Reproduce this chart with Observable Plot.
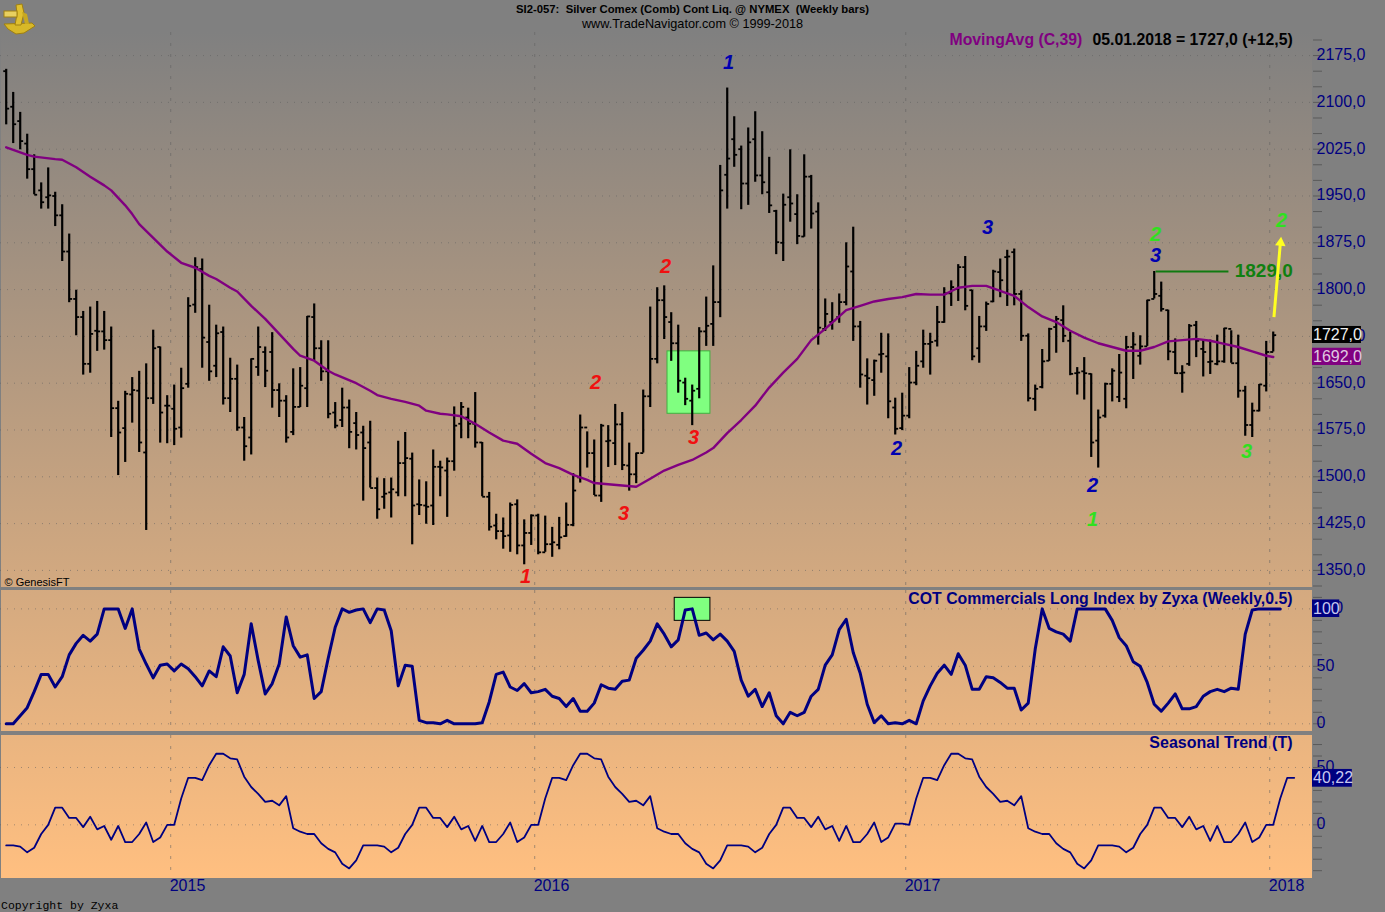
<!DOCTYPE html>
<html>
<head>
<meta charset="utf-8">
<script src="https://cdn.jsdelivr.net/npm/d3@7"></script>
<script src="https://cdn.jsdelivr.net/npm/@observablehq/plot@0.6"></script>
<style>
html,body{margin:0;padding:0;background:#808080;}
#page{position:relative;width:1385px;height:912px;overflow:hidden;background:#808080;font-family:"Liberation Sans",Arial,sans-serif;}
#page>div,#page>svg{position:absolute;}
</style>
</head>
<body>
<div id="page"></div>
<script>
// Weekly bars (week 181 = 05.01.2018)
const high = [
2153,2116,2084,2049,2016,1971,1995,1956,1936,1889,
1799,1765,1772,1781,1765,1740,1621,1637,1659,1669,
1681,1735,1708,1630,1647,1674,1787,1851,1849,1775,
1743,1740,1690,1679,1595,1689,1740,1708,1731,1649,
1630,1673,1675,1757,1777,1718,1718,1619,1642,1623,
1603,1581,1589,1498,1497,1498,1557,1571,1538,1495,
1492,1543,1525,1530,1612,1619,1610,1635,1555,1475,
1440,1434,1458,1463,1431,1439,1440,1437,1419,1435,
1458,1505,1599,1572,1559,1584,1582,1616,1603,1554,
1538,1639,1772,1803,1806,1763,1743,1658,1647,1739,
1788,1838,1999,2123,2077,2030,2059,2085,2053,2012,
1927,1953,2024,1952,2016,1983,1939,1785,1779,1793,
1875,1900,1749,1689,1687,1730,1729,1626,1634,1675,
1701,1735,1730,1773,1803,1814,1840,1853,1799,1757,
1780,1831,1849,1863,1865,1798,1729,1647,1704,1738,
1757,1774,1732,1675,1691,1665,1607,1650,1673,1696,
1725,1731,1726,1783,1829,1812,1767,1721,1678,1744,
1749,1720,1719,1727,1738,1734,1727,1645,1618,1648,1717,1732];
const low = [
2064,2034,2024,1977,1952,1929,1929,1901,1845,1779,
1726,1663,1666,1701,1703,1563,1502,1523,1586,1539,
1414,1616,1554,1553,1550,1562,1642,1762,1674,1653,
1659,1615,1603,1573,1525,1535,1661,1643,1610,1595,
1554,1566,1611,1611,1686,1653,1593,1577,1579,1545,
1543,1461,1482,1432,1448,1434,1468,1468,1391,1438,
1424,1422,1468,1435,1509,1561,1561,1546,1468,1413,
1399,1384,1379,1375,1359,1390,1375,1379,1371,1383,
1403,1420,1490,1514,1470,1459,1515,1518,1510,1477,
1489,1538,1611,1681,1720,1685,1634,1614,1582,1625,
1709,1709,1755,1929,1996,1928,1935,1972,1952,1922,
1856,1845,1908,1872,1884,1897,1711,1733,1735,1746,
1774,1717,1642,1615,1629,1666,1593,1567,1574,1593,
1646,1674,1663,1708,1746,1773,1781,1766,1686,1682,
1733,1779,1787,1773,1774,1717,1620,1605,1641,1685,
1698,1715,1662,1631,1623,1531,1514,1594,1620,1619,
1609,1656,1679,1709,1785,1764,1686,1664,1634,1677,
1691,1660,1664,1678,1682,1682,1626,1565,1563,1604,1636,1700];
const open = [
2150,2093,2070,2034,1993,1959,1948,1950,1919,1861,
1785,1756,1681,1734,1733,1719,1610,1578,1632,1638,
1539,1626,1708,1614,1609,1579,1649,1776,1833,1716,
1678,1732,1626,1657,1579,1563,1676,1700,1700,1639,
1622,1572,1612,1642,1756,1706,1669,1603,1591,1611,
1586,1571,1555,1482,1468,1475,1475,1522,1529,1456,
1454,1454,1516,1510,1525,1585,1595,1585,1555,1468,
1422,1413,1406,1456,1390,1410,1438,1379,1392,1391,
1405,1423,1499,1579,1538,1470,1557,1554,1584,1518,
1504,1538,1629,1689,1783,1748,1714,1651,1622,1641,
1733,1745,1780,1984,2041,2025,1970,2041,1983,1956,
1926,1875,1948,1921,1885,1981,1925,1737,1748,1756,
1780,1829,1741,1662,1655,1696,1693,1611,1578,1598,
1651,1685,1713,1718,1748,1794,1801,1836,1799,1706,
1741,1781,1828,1852,1860,1793,1726,1625,1644,1686,
1740,1751,1718,1666,1669,1665,1558,1598,1649,1628,
1625,1708,1694,1709,1785,1790,1767,1700,1666,1681,
1743,1705,1684,1681,1685,1737,1682,1638,1583,1606,1646,1700];
const close = [
2090,2065,2038,1993,1952,1940,1951,1919,1861,1785,
1756,1681,1729,1733,1719,1610,1571,1633,1639,1555,
1626,1706,1603,1614,1577,1642,1774,1836,1723,1669,
1730,1626,1657,1579,1549,1689,1708,1670,1639,1622,
1563,1612,1646,1757,1706,1669,1601,1582,1611,1572,
1567,1546,1482,1448,1473,1480,1522,1530,1454,1455,
1452,1516,1515,1525,1582,1612,1585,1555,1468,1420,
1413,1405,1455,1390,1410,1438,1379,1392,1395,1403,
1423,1478,1579,1538,1470,1582,1558,1584,1519,1504,
1538,1629,1689,1783,1756,1714,1654,1625,1638,1733,
1742,1780,1959,2010,2016,1970,2036,1983,1972,1935,
1876,1936,1938,1886,1981,1922,1739,1761,1750,1780,
1837,1741,1664,1658,1686,1697,1621,1577,1598,1651,
1678,1713,1716,1748,1794,1804,1836,1774,1693,1741,
1777,1829,1815,1853,1793,1726,1626,1641,1685,1737,
1753,1726,1665,1667,1666,1555,1595,1649,1670,1667,
1708,1712,1709,1783,1793,1769,1701,1666,1667,1742,
1718,1700,1685,1685,1738,1682,1638,1583,1606,1648,1700,1727];

// MovingAvg (C,39), read at these weeks
const maWeek = [0,3,4,7,8,10,12,14,15,17,18,19,21,23,25,27,29,30,32,33,35,37,39,41,42,44,46,47,50,52,53,55,57,59,60,62,63,65,67,69,71,73,75,77,79,81,83,84,86,88,90,92,94,96,98,100,101,103,105,107,109,111,113,115,117,119,120,122,124,126,128,130,132,134,136,138,140,142,144,146,148,150,152,154,156,158,160,162,164,166,168,170,172,174,176,178,180,181];
const maValue = [2028,2016,2013,2009,2008,1996,1981,1967,1959,1935,1921,1905,1883,1861,1843,1835,1822,1817,1803,1797,1774,1753,1729,1705,1694,1686,1670,1664,1650,1638,1631,1625,1620,1614,1606,1601,1600,1597,1585,1571,1558,1553,1537,1522,1514,1503,1495,1490,1488,1486,1484,1497,1510,1519,1527,1539,1546,1570,1591,1614,1643,1667,1689,1719,1737,1757,1767,1774,1781,1785,1788,1793,1792,1792,1803,1806,1806,1798,1790,1772,1757,1748,1734,1723,1714,1708,1702,1702,1708,1717,1719,1721,1718,1713,1708,1701,1694,1692];

// COT Commercials Long Index, weeks 0..182
const cot = [
0,0,7,14,28,43,43,32,41,60,
70,77,72,78,100,100,100,83,100,65,
52,40,51,52,46,52,48,41,33,46,
41,67,59,27,43,87,55,26,35,52,
93,68,58,60,22,28,57,84,100,97,
99,100,88,100,99,81,33,51,50,3,
1,1,0,3,0,0,0,0,1,19,
43,45,32,29,35,27,28,30,24,22,
15,22,11,11,18,34,31,30,37,38,
57,64,72,87,78,67,73,99,100,77,
79,73,78,72,63,38,24,30,15,27,
7,0,10,7,10,24,30,51,60,82,
91,62,44,17,1,7,0,1,0,3,
0,20,33,44,51,43,61,51,30,30,
41,40,36,31,31,12,18,65,100,83,
80,78,72,100,100,100,100,100,90,75,
68,54,50,36,17,11,18,26,13,13,
15,24,28,30,28,31,30,78,99,100,100,100,100];

// Seasonal Trend, weeks 0..184
const seasonal = [
-18,-18,-19,-24,-20,-8,0,15,15,6,
6,-2,7,-4,-1,-13,-1,-15,-15,-8,
2,-15,-11,0,0,23,41,41,39,52,
62,62,58,57,42,33,27,20,21,17,
25,-3,-6,-8,-8,-16,-21,-24,-34,-38,
-31,-18,-18,-18,-19,-24,-20,-8,0,15,
15,6,6,-2,7,-4,-1,-14,-1,-15,
-15,-8,2,-15,-11,0,0,23,41,41,
39,52,62,62,58,57,42,33,27,20,
21,17,25,-3,-6,-8,-8,-16,-21,-24,
-34,-38,-31,-18,-18,-18,-19,-24,-20,-8,
0,15,15,6,6,-2,7,-4,-1,-14,
-1,-15,-15,-8,2,-15,-11,1,1,0,
23,41,41,39,52,62,62,58,57,42,
33,27,20,21,17,25,-3,-6,-8,-8,
-16,-21,-24,-34,-38,-31,-18,-18,-18,-19,
-24,-20,-8,0,15,15,6,6,-2,7,
-4,-1,-14,-1,-15,-15,-8,2,-15,-11,
0,0,23,41,41];

// Wave count labels
const waveText  = ["1","3","2","2","3", "1","2","2","3","3", "1","2","2","3"];
const waveWeek  = [103.2,140.2,127.2,155.2,164.2, 74.2,84.2,94.2,88.2,98.2, 155.2,164.2,182.2,177.2];
const wavePrice = [2164,1900,1545,1486,1855, 1340,1651,1837,1441,1563, 1432,1888,1911,1541];
const waveColor = ["#0000b0","#0000b0","#0000b0","#0000b0","#0000b0","#f01010","#f01010","#f01010","#f01010","#f01010","#30e020","#30e020","#30e020","#30e020"];

// Axis values
const yearWeeks = [23.5,75.5,128.5,180.5];
const yearLabels = ["2015","2016","2017","2018"];
const priceMajor = [1350,1425,1500,1575,1650,1725,1800,1875,1950,2025,2100,2175];
const priceMinor = d3.range(1325,2225,25);
const cotMajor = [0,50,100];
const cotMinor = d3.range(0,120,10);
const seasonMajor = [0,50];
const seasonMinor = d3.range(-40,80,10);

const bars = high.map((h,i)=>({i,high:h,low:low[i],open:open[i],close:close[i]}));
const weekDomain = [-0.814,186.61];
const fontStyle = {fontFamily:"'Liberation Sans',Arial,sans-serif",background:"transparent",overflow:"visible"};
const navy = "#000080";
const gridX = Plot.ruleX(yearWeeks,{stroke:"#5f5f5f",strokeOpacity:0.55,strokeDasharray:"3 8"});
const gridY = v => Plot.ruleY(v,{stroke:"#5f5f5f",strokeOpacity:0.55,strokeDasharray:"1 6"});
const axes = (major,minor,fmt) => [
  Plot.axisY({anchor:"right",ticks:minor,tickSize:9,tickFormat:()=>"",label:null,stroke:"#5a5a5a"}),
  Plot.axisY({anchor:"right",ticks:major,tickSize:0,tickPadding:4,dy:-0.7,tickFormat:fmt,label:null,fill:navy,fontSize:16})
];
const badge = (week0,week1,lo,hi,bg,text,val,fg) => [
  Plot.rect([0],{x1:[week0],x2:[week1],y1:[lo],y2:[hi],fill:bg}),
  Plot.text([text],{x:[week0],y:[val],text:d=>d,textAnchor:"start",dx:0.5,dy:-0.5,fill:fg,fontSize:16})
];
const comma = d=>d.toFixed(1).replace(".",",");

// ---- price panel ----
const main = Plot.plot({
  width:1385,height:555,marginLeft:0,marginRight:73,marginTop:0,marginBottom:0,
  style:fontStyle,
  x:{domain:weekDomain,axis:null},
  y:{domain:[1322.6,2212]},
  marks:[
    gridY(priceMajor),gridX,
    ...axes(priceMajor,priceMinor,comma),
    Plot.rect([0],{x1:[94.47],x2:[100.6],y1:[1601],y2:[1701],fill:"#80ff80",stroke:"#40b040",strokeWidth:1}),
    Plot.ruleX(bars,{x:"i",y1:"low",y2:"high",stroke:"#000",strokeWidth:2.2}),
    Plot.link(bars,{x1:d=>d.i-0.42,x2:d=>d.i,y1:"open",y2:"open",stroke:"#000",strokeWidth:1.8}),
    Plot.link(bars,{x1:d=>d.i,x2:d=>d.i+0.42,y1:"close",y2:"close",stroke:"#000",strokeWidth:1.8}),
    Plot.line(maValue,{x:maWeek,y:maValue,stroke:"#800080",strokeWidth:2.4}),
    Plot.link([0],{x1:[164.2],x2:[174.6],y1:[1829],y2:[1829],stroke:"#107a10",strokeWidth:2}),
    Plot.text(["1829,0"],{x:[175.5],y:[1829],dy:-1,text:d=>d,textAnchor:"start",fill:"#108010",fontSize:19,fontWeight:"bold"}),
    Plot.link([0],{x1:[181.1],x2:[182],y1:[1756],y2:[1872],stroke:"#ffff20",strokeWidth:3}),
    Plot.dot([0],{x:[182.05],y:[1875],symbol:"triangle2",r:5,rotate:5,fill:"#ffff20"}),
    Plot.text(waveText,{x:waveWeek,y:wavePrice,text:d=>d,fill:waveColor,fontSize:20,fontWeight:"bold",fontStyle:"italic"}),
    Plot.text(["MovingAvg (C,39)"],{frameAnchor:"top-left",dx:949,dy:1,lineAnchor:"top",text:d=>d,textAnchor:"start",fill:"#800080",fontSize:15.8,fontWeight:"bold"}),
    Plot.text(["05.01.2018 = 1727,0 (+12,5)"],{frameAnchor:"top-left",dx:1092,dy:1,lineAnchor:"top",text:d=>d,textAnchor:"start",fill:"#000",fontSize:15.8,fontWeight:"bold"}),
    Plot.text(["© GenesisFT"],{frameAnchor:"bottom-left",dx:4,dy:-1.5,lineAnchor:"bottom",text:d=>d,textAnchor:"start",fill:"#000",fontSize:11}),
    ...badge(186.61,193.6,1713.6,1740.9,"#000","1727,0",1727,"#f0f0f0"),
    ...badge(186.61,193.6,1678.4,1706,"#800080","1692,0",1692,"#e0c8e0")
  ]
});

// ---- COT panel ----
const cotPlot = Plot.plot({
  width:1385,height:141,marginLeft:0,marginRight:73,marginTop:0,marginBottom:0,
  style:fontStyle,
  x:{domain:weekDomain,axis:null},
  y:{domain:[-6.7,116]},
  marks:[
    gridY(cotMajor),gridX,
    ...axes(cotMajor,cotMinor,d=>String(d)),
    Plot.rect([0],{x1:[95.5],x2:[100.6],y1:[89.6],y2:[109.6],fill:"#80ff80",stroke:"#000",strokeWidth:1}),
    Plot.line(cot,{x:(d,i)=>i,y:d=>d,stroke:navy,strokeWidth:3}),
    Plot.text(["COT Commercials Long Index by Zyxa (Weekly,0.5)"],{frameAnchor:"top-right",dx:-20,dy:2,lineAnchor:"top",text:d=>d,textAnchor:"end",fill:navy,fontSize:15.85,fontWeight:"bold"}),
    ...badge(186.61,190.5,92.5,107.8,navy,"100",100,"#c8c8f0")
  ]
});

// ---- Seasonal panel (carries the year axis) ----
const seasonPlot = Plot.plot({
  width:1385,height:177,marginLeft:0,marginRight:73,marginTop:0,marginBottom:34,
  style:fontStyle,
  x:{domain:weekDomain},
  y:{domain:[-46.8,77.9]},
  marks:[
    gridY(seasonMajor),gridX,
    ...axes(seasonMajor,seasonMinor,d=>String(d)),
    Plot.axisX({ticks:yearWeeks,tickSize:0,tickPadding:1,dx:-1,textAnchor:"start",label:null,fill:navy,fontSize:16,
      tickFormat:d=>yearLabels[yearWeeks.indexOf(d)]}),
    Plot.line(seasonal,{x:(d,i)=>i,y:d=>d,stroke:navy,strokeWidth:1.8}),
    Plot.text(["Seasonal Trend (T)"],{frameAnchor:"top-right",dx:-20,dy:1,lineAnchor:"top",text:d=>d,textAnchor:"end",fill:navy,fontSize:16,fontWeight:"bold"}),
    ...badge(186.61,192.3,32.8,48.3,navy,"40,22",40.22,"#c8c8f0")
  ]
});

// ---- page assembly ----
const page = document.getElementById("page");
function box(css,html){const d=document.createElement("div");d.style.cssText=css;if(html)d.innerHTML=html;page.appendChild(d);return d;}
box("left:1px;top:32px;width:1311px;height:846px;background:linear-gradient(#808080,#ffbf80)");
box("left:0;top:587px;width:1312px;height:3px;background:#808080");
box("left:0;top:731px;width:1312px;height:4px;background:#808080");
function place(svg,top){svg.style.position="absolute";svg.style.left="0";svg.style.top=top+"px";page.appendChild(svg);}
place(main,32);place(cotPlot,590);place(seasonPlot,735);
box("left:0;width:1385px;top:3px;text-align:center;font:bold 11.3px 'Liberation Sans';color:#000;white-space:pre","SI2-057:  Silver Comex (Comb) Cont Liq. @ NYMEX  (Weekly bars)");
box("left:0;width:1385px;top:17px;text-align:center;font:12.7px 'Liberation Sans';color:#000","www.TradeNavigator.com © 1999-2018");
// sextant logo
box("left:0;top:0;width:40px;height:36px",`<svg width="40" height="36" viewBox="0 0 40 36">
<path d="M4 24 L32 23 L35 26 L24 33 L16 34 L8 29 Z" fill="#d8b828" stroke="#a08010" stroke-width="1"/>
<path d="M16 5 L22 4 L24 13 L21 25 L15 25 L17 14 Z" fill="#e0c030" stroke="#a08010" stroke-width="1"/>
<rect x="4" y="11" width="13" height="6" fill="#e8d060" stroke="#a08010" stroke-width="1"/>
<path d="M22 12 L27 14 L29 24 L25 24 Z" fill="#c8a820"/></svg>`);
box("left:1px;top:899px;font:11.5px 'Liberation Mono';color:#000","Copyright by Zyxa");
</script>
</body>
</html>
